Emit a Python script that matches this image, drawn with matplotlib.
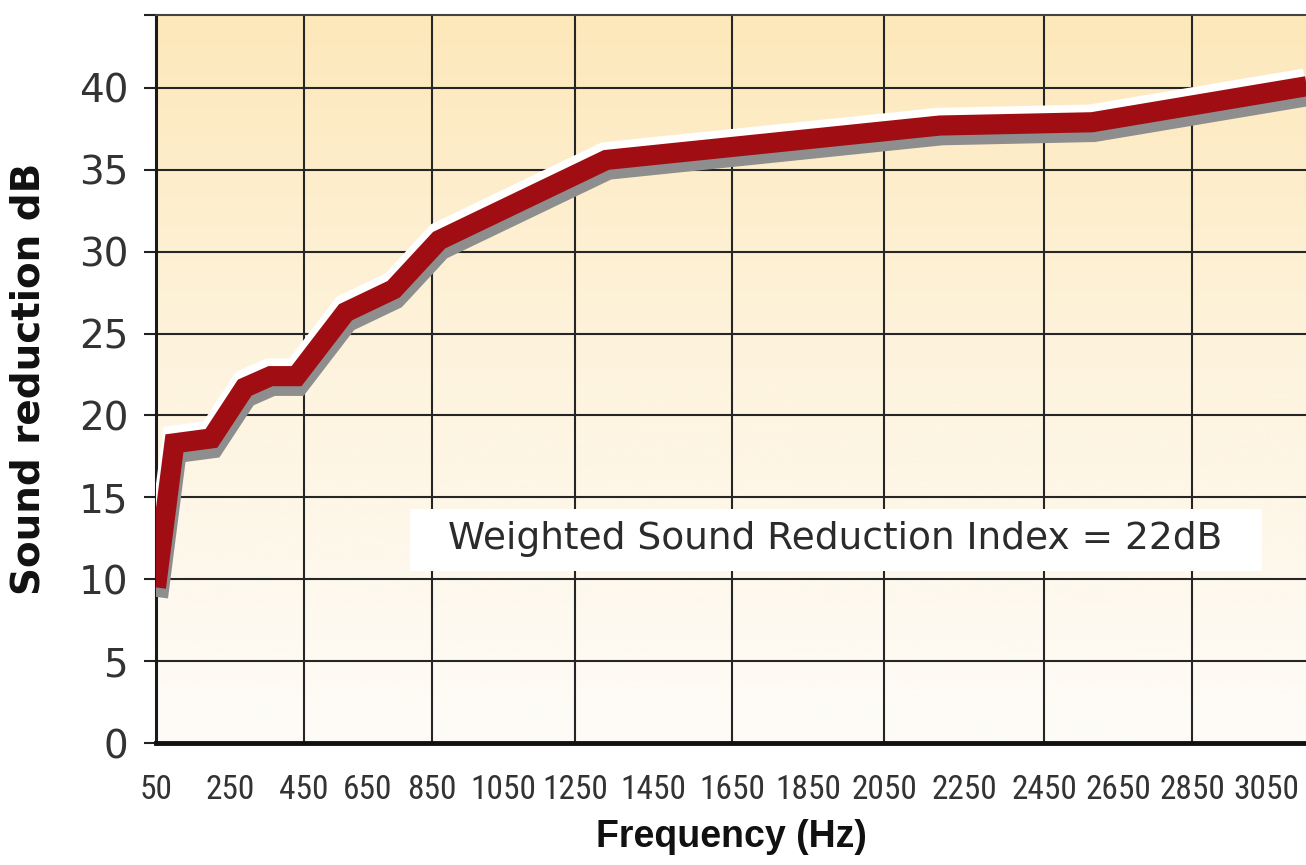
import numpy as np
import matplotlib
matplotlib.use("Agg")
import matplotlib.pyplot as plt
import matplotlib.patheffects as pe
from matplotlib import font_manager as fm
from matplotlib.colors import LinearSegmentedColormap
from matplotlib.patches import Rectangle

# ---- data ----
freq_hz = [50, 100, 200, 290, 360, 430, 580, 730, 870, 1330, 2190, 2580, 3160]
reduction_db = [9.5, 18.3, 18.6, 21.7, 22.4, 22.4, 26.3, 27.7, 30.7, 35.6, 37.7, 37.9, 40.1]
x_label_ticks = [50, 250, 450, 650, 850, 1050, 1250, 1450, 1650, 1850, 2050,
                 2250, 2450, 2650, 2850, 3050]
x_grid_ticks = [50, 450, 850, 1250, 1650, 2050, 2450, 2850]
y_ticks = [0, 5, 10, 15, 20, 25, 30, 35, 40]
note_text = "Weighted Sound Reduction Index = 22dB"

# The printed frequency axis is hand-drawn with slightly uneven grid spacing;
# reproduce it with a piecewise-linear axis scale (relative grid positions).
scale_vals = [-350, 50, 450, 850, 1250, 1650, 2050, 2450, 2850, 3158, 3558]
scale_pos = [8, 156, 304, 432, 575, 732, 884, 1044, 1192, 1306, 1454]


def fwd(x):
    return np.interp(x, scale_vals, scale_pos)


def inv(p):
    return np.interp(p, scale_pos, scale_vals)


def find_condensed(bold=False):
    cands = []
    for f in fm.fontManager.ttflist:
        name = f.name
        is_narrow = ('Condensed' in name or 'Narrow' in name or
                     str(f.stretch) in ('condensed', 'semi-condensed', '75', '87.5'))
        if not is_narrow or f.style != 'normal':
            continue
        if 'Extra' in name or 'Ultra' in name or 'Semi' in name or 'Mono' in name:
            continue
        w = f.weight if isinstance(f.weight, int) else (700 if 'bold' in str(f.weight) else 400)
        if bold and w < 600:
            continue
        if not bold and w != 400:
            continue
        pref = 0
        for i, key in enumerate(['Liberation Sans Narrow', 'Roboto Condensed', 'DejaVu Sans',
                                 'Noto Sans', 'Open Sans']):
            if key in name:
                pref = 10 - i
        cands.append((pref, f.fname, name))
    if not cands:
        return None
    cands.sort(reverse=True)
    return cands[0][1]


cond_path = find_condensed(False)
if cond_path:
    tick_fp = fm.FontProperties(fname=cond_path, size=24)
else:
    tick_fp = fm.FontProperties(family='Liberation Sans', size=18)

fig = plt.figure(figsize=(13.06, 8.65), dpi=100)
fig.patch.set_facecolor('white')
ax = fig.add_axes([0.1194, 0.1410, 1 - 0.1194, 0.9827 - 0.1410])

ax.set_xscale('function', functions=(fwd, inv))
ax.set_xlim(50, 3158)
ax.set_ylim(0, 44.45)

# background gradient
cmap = LinearSegmentedColormap.from_list('bg', ['#FEFCF8', '#FEF4DF', '#FDE8BA'])
grad = np.linspace(0, 1, 256).reshape(-1, 1)
ax.imshow(grad, extent=[0, 1, 0, 1], transform=ax.transAxes, aspect='auto',
          cmap=cmap, origin='lower', zorder=0, interpolation='bicubic')

# grid
ax.set_yticks(y_ticks)
ax.set_xticks(x_label_ticks)
ax.set_xticklabels([str(v) for v in x_label_ticks])
ax.set_xticks(x_grid_ticks, minor=True)
ax.xaxis.set_minor_formatter(matplotlib.ticker.NullFormatter())
ax.set_yticks([44.45], minor=True)
for yv in y_ticks[1:]:
    ax.axhline(yv, color='#262626', lw=1.5, zorder=1)
for xv in x_grid_ticks[1:]:
    ax.axvline(xv, color='#262626', lw=1.5, zorder=1)

ax.tick_params(axis='x', which='major', length=0, pad=22, labelcolor='#333333')
ax.tick_params(axis='x', which='minor', length=8, width=1.5, color='#222222', direction='out')
ax.tick_params(axis='y', which='both', length=9, width=1.5, color='#222222', direction='out',
               pad=11, labelsize=28, labelcolor='#333333')
for lab in ax.get_xticklabels():
    lab.set_fontproperties(tick_fp)
for lab in ax.get_yticklabels():
    lab.set_family('DejaVu Sans')

ax.spines['left'].set_linewidth(2.2)
ax.spines['left'].set_color('#1a1a1a')
ax.spines['bottom'].set_linewidth(3.5)
ax.spines['bottom'].set_color('#111111')
ax.spines['top'].set_linewidth(1.5)
ax.spines['top'].set_color('#444444')
ax.spines['right'].set_visible(False)

# the curve with highlight & shadow
ax.plot(freq_hz, reduction_db, color='#A00E14', lw=14.5, solid_joinstyle='miter',
        solid_capstyle='butt', zorder=3,
        path_effects=[pe.SimpleLineShadow(offset=(-1.5, 5.5), shadow_color='white', alpha=1),
                      pe.SimpleLineShadow(offset=(1.5, -7), shadow_color='#8E8E8E', alpha=1),
                      pe.Normal()])

# annotation box
ax.add_patch(Rectangle((781, 10.5), 2258, 3.8, facecolor='white', edgecolor='none', zorder=2))
ax.text(1921, 12.45, note_text, ha='center', va='center', fontsize=27,
        color='#2b2b2b', family='DejaVu Sans', zorder=4)

ax.set_ylabel('Sound reduction dB', fontsize=28, fontweight='bold', family='DejaVu Sans',
              color='#111111', labelpad=22)
ax.set_xlabel('Frequency (Hz)', fontsize=27, fontweight='bold',
              family=['Liberation Sans', 'DejaVu Sans'], color='#111111', labelpad=10)

fig.savefig('out.png', dpi=100, facecolor='white')
